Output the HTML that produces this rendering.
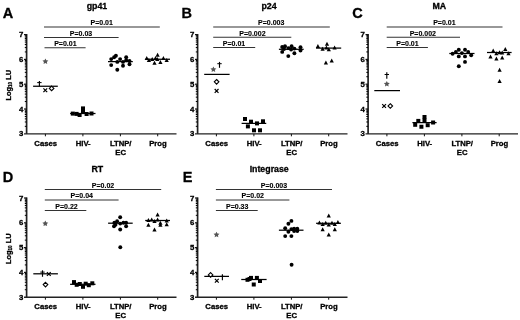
<!DOCTYPE html>
<html><head><meta charset="utf-8"><title>Figure</title>
<style>
html,body{margin:0;padding:0;background:#fff;width:520px;height:320px;overflow:hidden;}
body{position:relative;font-family:"Liberation Sans", sans-serif;}
</style></head><body>
<svg width="520" height="320" viewBox="0 0 520 320" style="position:absolute;left:0;top:0;will-change:transform" font-family='"Liberation Sans", sans-serif' fill="#000">
<style>text{stroke:#000;stroke-width:0.3px;}</style>
<rect width="520" height="320" fill="#fff"/>
<text x="2.8" y="18.3" font-size="14.5" text-anchor="start" font-weight="bold" >A</text>
<text x="97" y="9" font-size="8.8" text-anchor="middle" font-weight="bold" >gp41</text>
<path d="M44 26.9H159.8" stroke="#333" stroke-width="1.05"/>
<text x="101.7" y="25.3" font-size="7.0" text-anchor="middle" font-weight="bold" style="stroke-width:0.12px">P=0.01</text>
<path d="M44 37.4H118.6" stroke="#333" stroke-width="1.05"/>
<text x="81" y="35.8" font-size="7.0" text-anchor="middle" font-weight="bold" style="stroke-width:0.12px">P=0.03</text>
<path d="M44.5 47.7H85.6" stroke="#333" stroke-width="1.05"/>
<text x="65.4" y="46.1" font-size="7.0" text-anchor="middle" font-weight="bold" style="stroke-width:0.12px">P=0.01</text>
<path d="M26.6 34V133.9" stroke="#222" stroke-width="1.7" fill="none"/>
<path d="M24 133.9H176.5" stroke="#222" stroke-width="1.4" fill="none"/>
<path d="M24 34.6H26.6" stroke="#111" stroke-width="1.2"/>
<path d="M24 59.4H26.6" stroke="#111" stroke-width="1.2"/>
<path d="M24 84.2H26.6" stroke="#111" stroke-width="1.2"/>
<path d="M24 109H26.6" stroke="#111" stroke-width="1.2"/>
<text x="23.4" y="37.1" font-size="7.8" text-anchor="end" font-weight="bold" >7</text>
<text x="23.4" y="61.9" font-size="7.8" text-anchor="end" font-weight="bold" >6</text>
<text x="23.4" y="86.7" font-size="7.8" text-anchor="end" font-weight="bold" >5</text>
<text x="23.4" y="111.5" font-size="7.8" text-anchor="end" font-weight="bold" >4</text>
<text x="23.4" y="136.3" font-size="7.8" text-anchor="end" font-weight="bold" >3</text>
<path d="M24.8 126.33H26.6" stroke="#000" stroke-width="1.0"/>
<path d="M24.8 121.97H26.6" stroke="#000" stroke-width="1.0"/>
<path d="M24.8 118.87H26.6" stroke="#000" stroke-width="1.0"/>
<path d="M24.8 116.47H26.6" stroke="#000" stroke-width="1.0"/>
<path d="M24.8 114.5H26.6" stroke="#000" stroke-width="1.0"/>
<path d="M24.8 112.84H26.6" stroke="#000" stroke-width="1.0"/>
<path d="M24.8 111.4H26.6" stroke="#000" stroke-width="1.0"/>
<path d="M24.8 110.13H26.6" stroke="#000" stroke-width="1.0"/>
<path d="M24.8 101.53H26.6" stroke="#000" stroke-width="1.0"/>
<path d="M24.8 97.17H26.6" stroke="#000" stroke-width="1.0"/>
<path d="M24.8 94.07H26.6" stroke="#000" stroke-width="1.0"/>
<path d="M24.8 91.67H26.6" stroke="#000" stroke-width="1.0"/>
<path d="M24.8 89.7H26.6" stroke="#000" stroke-width="1.0"/>
<path d="M24.8 88.04H26.6" stroke="#000" stroke-width="1.0"/>
<path d="M24.8 86.6H26.6" stroke="#000" stroke-width="1.0"/>
<path d="M24.8 85.33H26.6" stroke="#000" stroke-width="1.0"/>
<path d="M24.8 76.73H26.6" stroke="#000" stroke-width="1.0"/>
<path d="M24.8 72.37H26.6" stroke="#000" stroke-width="1.0"/>
<path d="M24.8 69.27H26.6" stroke="#000" stroke-width="1.0"/>
<path d="M24.8 66.87H26.6" stroke="#000" stroke-width="1.0"/>
<path d="M24.8 64.9H26.6" stroke="#000" stroke-width="1.0"/>
<path d="M24.8 63.24H26.6" stroke="#000" stroke-width="1.0"/>
<path d="M24.8 61.8H26.6" stroke="#000" stroke-width="1.0"/>
<path d="M24.8 60.53H26.6" stroke="#000" stroke-width="1.0"/>
<path d="M24.8 51.93H26.6" stroke="#000" stroke-width="1.0"/>
<path d="M24.8 47.57H26.6" stroke="#000" stroke-width="1.0"/>
<path d="M24.8 44.47H26.6" stroke="#000" stroke-width="1.0"/>
<path d="M24.8 42.07H26.6" stroke="#000" stroke-width="1.0"/>
<path d="M24.8 40.1H26.6" stroke="#000" stroke-width="1.0"/>
<path d="M24.8 38.44H26.6" stroke="#000" stroke-width="1.0"/>
<path d="M24.8 37H26.6" stroke="#000" stroke-width="1.0"/>
<path d="M24.8 35.73H26.6" stroke="#000" stroke-width="1.0"/>
<path d="M45.4 133.9V136.3" stroke="#111" stroke-width="1"/>
<path d="M82.9 133.9V136.3" stroke="#111" stroke-width="1"/>
<path d="M120.4 133.9V136.3" stroke="#111" stroke-width="1"/>
<path d="M157.7 133.9V136.3" stroke="#111" stroke-width="1"/>
<text x="45.7" y="145.9" font-size="7.7" text-anchor="middle" font-weight="bold" >Cases</text>
<text x="83.2" y="145.9" font-size="7.7" text-anchor="middle" font-weight="bold" >HIV-</text>
<text x="120.7" y="145.9" font-size="7.7" text-anchor="middle" font-weight="bold" >LTNP/</text>
<text x="158" y="145.9" font-size="7.7" text-anchor="middle" font-weight="bold" >Prog</text>
<text x="120.7" y="155" font-size="7.7" text-anchor="middle" font-weight="bold" >EC</text>
<text transform="translate(10.6 85.3) rotate(-90)" font-size="7.4" font-weight="bold" text-anchor="middle">Log<tspan font-size="4.6" dy="1.1">10</tspan><tspan dy="-1.1"> LU</tspan></text>
<polygon points="45.4,58.4 46.31,60.25 48.35,60.54 46.87,61.98 47.22,64.01 45.4,63.05 43.58,64.01 43.93,61.98 42.45,60.54 44.49,60.25" fill="#555"/>
<path d="M33.1 86.25H57.8" stroke="#000" stroke-width="1.25"/>
<path d="M39.4 80.9V86.2" stroke="#000" stroke-width="1.15" fill="none"/>
<path d="M37.2 82.6H41.6" stroke="#000" stroke-width="1.0" fill="none"/>
<path d="M43.4 88.4L47.2 92.2M47.2 88.4L43.4 92.2" stroke="#000" stroke-width="1.2" fill="none"/>
<path d="M51.6 86.1L53.9 88.4L51.6 90.7L49.3 88.4Z" fill="#fff" stroke="#000" stroke-width="1.1"/>
<path d="M70.1 113.5H95.5" stroke="#000" stroke-width="1.25"/>
<rect x="70.8" y="111.6" width="4.0" height="4.0" fill="#000"/>
<rect x="74.6" y="111.9" width="4.0" height="4.0" fill="#000"/>
<rect x="77.6" y="113" width="4.0" height="4.0" fill="#000"/>
<rect x="81" y="106.4" width="4.0" height="4.0" fill="#000"/>
<rect x="81" y="110" width="4.0" height="4.0" fill="#000"/>
<rect x="84.6" y="112" width="4.0" height="4.0" fill="#000"/>
<rect x="89.5" y="111.5" width="4.0" height="4.0" fill="#000"/>
<path d="M108 61.6H132.8" stroke="#000" stroke-width="1.25"/>
<circle cx="111.2" cy="59.1" r="1.95" fill="#000"/>
<circle cx="114.1" cy="57.2" r="1.95" fill="#000"/>
<circle cx="115.9" cy="55.8" r="1.95" fill="#000"/>
<circle cx="111.2" cy="65.1" r="1.95" fill="#000"/>
<circle cx="117.3" cy="61.9" r="1.95" fill="#000"/>
<circle cx="120.1" cy="59.1" r="1.95" fill="#000"/>
<circle cx="117.3" cy="69.8" r="1.95" fill="#000"/>
<circle cx="123" cy="61.9" r="1.95" fill="#000"/>
<circle cx="123" cy="65.8" r="1.95" fill="#000"/>
<circle cx="126.2" cy="57.2" r="1.95" fill="#000"/>
<circle cx="126.2" cy="60.3" r="1.95" fill="#000"/>
<circle cx="129.5" cy="61" r="1.95" fill="#000"/>
<circle cx="129.5" cy="64.2" r="1.95" fill="#000"/>
<path d="M145.2 59.25H170" stroke="#000" stroke-width="1.25"/>
<path d="M146.75 55.9L148.85 59.9L144.65 59.9Z" fill="#000"/>
<path d="M148.9 58L151 62L146.8 62Z" fill="#000"/>
<path d="M152.2 57L154.3 61L150.1 61Z" fill="#000"/>
<path d="M154.5 60.8L156.6 64.8L152.4 64.8Z" fill="#000"/>
<path d="M155.5 56.1L157.6 60.1L153.4 60.1Z" fill="#000"/>
<path d="M157.6 52.8L159.7 56.8L155.5 56.8Z" fill="#000"/>
<path d="M157.3 57L159.4 61L155.2 61Z" fill="#000"/>
<path d="M160.4 59.9L162.5 63.9L158.3 63.9Z" fill="#000"/>
<path d="M163.4 56.1L165.5 60.1L161.3 60.1Z" fill="#000"/>
<path d="M166.7 58L168.8 62L164.6 62Z" fill="#000"/>
<text x="181.6" y="18.3" font-size="14.5" text-anchor="start" font-weight="bold" >B</text>
<text x="269" y="9" font-size="8.8" text-anchor="middle" font-weight="bold" >p24</text>
<path d="M213.2 26.9H329.8" stroke="#333" stroke-width="1.05"/>
<text x="271.25" y="25.3" font-size="7.0" text-anchor="middle" font-weight="bold" style="stroke-width:0.12px">P=0.003</text>
<path d="M213.2 37.3H291.3" stroke="#333" stroke-width="1.05"/>
<text x="252.4" y="35.7" font-size="7.0" text-anchor="middle" font-weight="bold" style="stroke-width:0.12px">P=0.002</text>
<path d="M213.2 47.4H255.2" stroke="#333" stroke-width="1.05"/>
<text x="234" y="45.8" font-size="7.0" text-anchor="middle" font-weight="bold" style="stroke-width:0.12px">P=0.01</text>
<path d="M197.6 34V133.9" stroke="#222" stroke-width="1.7" fill="none"/>
<path d="M195 133.9H347.5" stroke="#222" stroke-width="1.4" fill="none"/>
<path d="M195 34.6H197.6" stroke="#111" stroke-width="1.2"/>
<path d="M195 59.4H197.6" stroke="#111" stroke-width="1.2"/>
<path d="M195 84.2H197.6" stroke="#111" stroke-width="1.2"/>
<path d="M195 109H197.6" stroke="#111" stroke-width="1.2"/>
<text x="194.4" y="37.1" font-size="7.8" text-anchor="end" font-weight="bold" >7</text>
<text x="194.4" y="61.9" font-size="7.8" text-anchor="end" font-weight="bold" >6</text>
<text x="194.4" y="86.7" font-size="7.8" text-anchor="end" font-weight="bold" >5</text>
<text x="194.4" y="111.5" font-size="7.8" text-anchor="end" font-weight="bold" >4</text>
<text x="194.4" y="136.3" font-size="7.8" text-anchor="end" font-weight="bold" >3</text>
<path d="M195.8 126.33H197.6" stroke="#000" stroke-width="1.0"/>
<path d="M195.8 121.97H197.6" stroke="#000" stroke-width="1.0"/>
<path d="M195.8 118.87H197.6" stroke="#000" stroke-width="1.0"/>
<path d="M195.8 116.47H197.6" stroke="#000" stroke-width="1.0"/>
<path d="M195.8 114.5H197.6" stroke="#000" stroke-width="1.0"/>
<path d="M195.8 112.84H197.6" stroke="#000" stroke-width="1.0"/>
<path d="M195.8 111.4H197.6" stroke="#000" stroke-width="1.0"/>
<path d="M195.8 110.13H197.6" stroke="#000" stroke-width="1.0"/>
<path d="M195.8 101.53H197.6" stroke="#000" stroke-width="1.0"/>
<path d="M195.8 97.17H197.6" stroke="#000" stroke-width="1.0"/>
<path d="M195.8 94.07H197.6" stroke="#000" stroke-width="1.0"/>
<path d="M195.8 91.67H197.6" stroke="#000" stroke-width="1.0"/>
<path d="M195.8 89.7H197.6" stroke="#000" stroke-width="1.0"/>
<path d="M195.8 88.04H197.6" stroke="#000" stroke-width="1.0"/>
<path d="M195.8 86.6H197.6" stroke="#000" stroke-width="1.0"/>
<path d="M195.8 85.33H197.6" stroke="#000" stroke-width="1.0"/>
<path d="M195.8 76.73H197.6" stroke="#000" stroke-width="1.0"/>
<path d="M195.8 72.37H197.6" stroke="#000" stroke-width="1.0"/>
<path d="M195.8 69.27H197.6" stroke="#000" stroke-width="1.0"/>
<path d="M195.8 66.87H197.6" stroke="#000" stroke-width="1.0"/>
<path d="M195.8 64.9H197.6" stroke="#000" stroke-width="1.0"/>
<path d="M195.8 63.24H197.6" stroke="#000" stroke-width="1.0"/>
<path d="M195.8 61.8H197.6" stroke="#000" stroke-width="1.0"/>
<path d="M195.8 60.53H197.6" stroke="#000" stroke-width="1.0"/>
<path d="M195.8 51.93H197.6" stroke="#000" stroke-width="1.0"/>
<path d="M195.8 47.57H197.6" stroke="#000" stroke-width="1.0"/>
<path d="M195.8 44.47H197.6" stroke="#000" stroke-width="1.0"/>
<path d="M195.8 42.07H197.6" stroke="#000" stroke-width="1.0"/>
<path d="M195.8 40.1H197.6" stroke="#000" stroke-width="1.0"/>
<path d="M195.8 38.44H197.6" stroke="#000" stroke-width="1.0"/>
<path d="M195.8 37H197.6" stroke="#000" stroke-width="1.0"/>
<path d="M195.8 35.73H197.6" stroke="#000" stroke-width="1.0"/>
<path d="M216.4 133.9V136.3" stroke="#111" stroke-width="1"/>
<path d="M253.9 133.9V136.3" stroke="#111" stroke-width="1"/>
<path d="M291.4 133.9V136.3" stroke="#111" stroke-width="1"/>
<path d="M328.7 133.9V136.3" stroke="#111" stroke-width="1"/>
<text x="216.7" y="145.9" font-size="7.7" text-anchor="middle" font-weight="bold" >Cases</text>
<text x="254.2" y="145.9" font-size="7.7" text-anchor="middle" font-weight="bold" >HIV-</text>
<text x="291.7" y="145.9" font-size="7.7" text-anchor="middle" font-weight="bold" >LTNP/</text>
<text x="329" y="145.9" font-size="7.7" text-anchor="middle" font-weight="bold" >Prog</text>
<text x="291.7" y="155" font-size="7.7" text-anchor="middle" font-weight="bold" >EC</text>
<path d="M204.2 74.4H229.6" stroke="#000" stroke-width="1.25"/>
<polygon points="213.4,66.4 214.31,68.25 216.35,68.54 214.87,69.98 215.22,72.01 213.4,71.05 211.58,72.01 211.93,69.98 210.45,68.54 212.49,68.25" fill="#555"/>
<path d="M219.5 61.9V67.8" stroke="#000" stroke-width="1.15" fill="none"/>
<path d="M217.3 63.7H221.7" stroke="#000" stroke-width="1.0" fill="none"/>
<path d="M216.6 79.5L218.9 81.8L216.6 84.1L214.3 81.8Z" fill="#fff" stroke="#000" stroke-width="1.1"/>
<path d="M214.7 89L218.5 92.8M218.5 89L214.7 92.8" stroke="#000" stroke-width="1.2" fill="none"/>
<path d="M241.6 123.4H266.25" stroke="#000" stroke-width="1.25"/>
<rect x="243" y="117" width="4.0" height="4.0" fill="#000"/>
<rect x="245.9" y="124.4" width="4.0" height="4.0" fill="#000"/>
<rect x="249" y="119.7" width="4.0" height="4.0" fill="#000"/>
<rect x="252" y="128.3" width="4.0" height="4.0" fill="#000"/>
<rect x="255" y="121.4" width="4.0" height="4.0" fill="#000"/>
<rect x="258" y="128.3" width="4.0" height="4.0" fill="#000"/>
<rect x="261" y="119.3" width="4.0" height="4.0" fill="#000"/>
<path d="M278.9 49.3H303.7" stroke="#000" stroke-width="1.25"/>
<circle cx="282.2" cy="47" r="1.95" fill="#000"/>
<circle cx="282.2" cy="51.9" r="1.95" fill="#000"/>
<circle cx="285" cy="46.25" r="1.95" fill="#000"/>
<circle cx="284" cy="49" r="1.95" fill="#000"/>
<circle cx="288.3" cy="48.1" r="1.95" fill="#000"/>
<circle cx="291.6" cy="46.25" r="1.95" fill="#000"/>
<circle cx="291.1" cy="49.5" r="1.95" fill="#000"/>
<circle cx="294.4" cy="48.6" r="1.95" fill="#000"/>
<circle cx="294.4" cy="53.3" r="1.95" fill="#000"/>
<circle cx="288.3" cy="56.1" r="1.95" fill="#000"/>
<circle cx="300.5" cy="47.2" r="1.95" fill="#000"/>
<circle cx="300.5" cy="50.5" r="1.95" fill="#000"/>
<path d="M316 48.1H341.2" stroke="#000" stroke-width="1.25"/>
<path d="M317.9 43.9L320 47.9L315.8 47.9Z" fill="#000"/>
<path d="M322.6 46.7L324.7 50.7L320.5 50.7Z" fill="#000"/>
<path d="M327 41.75L329.1 45.75L324.9 45.75Z" fill="#000"/>
<path d="M326.4 45.6L328.5 49.6L324.3 49.6Z" fill="#000"/>
<path d="M328.8 47.2L330.9 51.2L326.7 51.2Z" fill="#000"/>
<path d="M334.6 45.6L336.7 49.6L332.5 49.6Z" fill="#000"/>
<path d="M325.9 60.4L328 64.4L323.8 64.4Z" fill="#000"/>
<path d="M331.7 58.4L333.8 62.4L329.6 62.4Z" fill="#000"/>
<text x="352.2" y="18.3" font-size="14.5" text-anchor="start" font-weight="bold" >C</text>
<text x="439.25" y="9" font-size="8.8" text-anchor="middle" font-weight="bold" >MA</text>
<path d="M386.7 26.9H502.5" stroke="#333" stroke-width="1.05"/>
<text x="444.35" y="25.3" font-size="7.0" text-anchor="middle" font-weight="bold" style="stroke-width:0.12px">P=0.01</text>
<path d="M386.7 37.3H460" stroke="#333" stroke-width="1.05"/>
<text x="422.8" y="35.7" font-size="7.0" text-anchor="middle" font-weight="bold" style="stroke-width:0.12px">P=0.002</text>
<path d="M386.7 47.4H427.9" stroke="#333" stroke-width="1.05"/>
<text x="407.45" y="45.8" font-size="7.0" text-anchor="middle" font-weight="bold" style="stroke-width:0.12px">P=0.01</text>
<path d="M368.1 34V133.9" stroke="#222" stroke-width="1.7" fill="none"/>
<path d="M365.5 133.9H518" stroke="#222" stroke-width="1.4" fill="none"/>
<path d="M365.5 34.6H368.1" stroke="#111" stroke-width="1.2"/>
<path d="M365.5 59.4H368.1" stroke="#111" stroke-width="1.2"/>
<path d="M365.5 84.2H368.1" stroke="#111" stroke-width="1.2"/>
<path d="M365.5 109H368.1" stroke="#111" stroke-width="1.2"/>
<text x="364.9" y="37.1" font-size="7.8" text-anchor="end" font-weight="bold" >7</text>
<text x="364.9" y="61.9" font-size="7.8" text-anchor="end" font-weight="bold" >6</text>
<text x="364.9" y="86.7" font-size="7.8" text-anchor="end" font-weight="bold" >5</text>
<text x="364.9" y="111.5" font-size="7.8" text-anchor="end" font-weight="bold" >4</text>
<text x="364.9" y="136.3" font-size="7.8" text-anchor="end" font-weight="bold" >3</text>
<path d="M366.3 126.33H368.1" stroke="#000" stroke-width="1.0"/>
<path d="M366.3 121.97H368.1" stroke="#000" stroke-width="1.0"/>
<path d="M366.3 118.87H368.1" stroke="#000" stroke-width="1.0"/>
<path d="M366.3 116.47H368.1" stroke="#000" stroke-width="1.0"/>
<path d="M366.3 114.5H368.1" stroke="#000" stroke-width="1.0"/>
<path d="M366.3 112.84H368.1" stroke="#000" stroke-width="1.0"/>
<path d="M366.3 111.4H368.1" stroke="#000" stroke-width="1.0"/>
<path d="M366.3 110.13H368.1" stroke="#000" stroke-width="1.0"/>
<path d="M366.3 101.53H368.1" stroke="#000" stroke-width="1.0"/>
<path d="M366.3 97.17H368.1" stroke="#000" stroke-width="1.0"/>
<path d="M366.3 94.07H368.1" stroke="#000" stroke-width="1.0"/>
<path d="M366.3 91.67H368.1" stroke="#000" stroke-width="1.0"/>
<path d="M366.3 89.7H368.1" stroke="#000" stroke-width="1.0"/>
<path d="M366.3 88.04H368.1" stroke="#000" stroke-width="1.0"/>
<path d="M366.3 86.6H368.1" stroke="#000" stroke-width="1.0"/>
<path d="M366.3 85.33H368.1" stroke="#000" stroke-width="1.0"/>
<path d="M366.3 76.73H368.1" stroke="#000" stroke-width="1.0"/>
<path d="M366.3 72.37H368.1" stroke="#000" stroke-width="1.0"/>
<path d="M366.3 69.27H368.1" stroke="#000" stroke-width="1.0"/>
<path d="M366.3 66.87H368.1" stroke="#000" stroke-width="1.0"/>
<path d="M366.3 64.9H368.1" stroke="#000" stroke-width="1.0"/>
<path d="M366.3 63.24H368.1" stroke="#000" stroke-width="1.0"/>
<path d="M366.3 61.8H368.1" stroke="#000" stroke-width="1.0"/>
<path d="M366.3 60.53H368.1" stroke="#000" stroke-width="1.0"/>
<path d="M366.3 51.93H368.1" stroke="#000" stroke-width="1.0"/>
<path d="M366.3 47.57H368.1" stroke="#000" stroke-width="1.0"/>
<path d="M366.3 44.47H368.1" stroke="#000" stroke-width="1.0"/>
<path d="M366.3 42.07H368.1" stroke="#000" stroke-width="1.0"/>
<path d="M366.3 40.1H368.1" stroke="#000" stroke-width="1.0"/>
<path d="M366.3 38.44H368.1" stroke="#000" stroke-width="1.0"/>
<path d="M366.3 37H368.1" stroke="#000" stroke-width="1.0"/>
<path d="M366.3 35.73H368.1" stroke="#000" stroke-width="1.0"/>
<path d="M386.9 133.9V136.3" stroke="#111" stroke-width="1"/>
<path d="M424.4 133.9V136.3" stroke="#111" stroke-width="1"/>
<path d="M461.9 133.9V136.3" stroke="#111" stroke-width="1"/>
<path d="M499.2 133.9V136.3" stroke="#111" stroke-width="1"/>
<text x="387.2" y="145.9" font-size="7.7" text-anchor="middle" font-weight="bold" >Cases</text>
<text x="424.7" y="145.9" font-size="7.7" text-anchor="middle" font-weight="bold" >HIV-</text>
<text x="462.2" y="145.9" font-size="7.7" text-anchor="middle" font-weight="bold" >LTNP/</text>
<text x="499.5" y="145.9" font-size="7.7" text-anchor="middle" font-weight="bold" >Prog</text>
<text x="462.2" y="155" font-size="7.7" text-anchor="middle" font-weight="bold" >EC</text>
<path d="M374.3 90.6H400" stroke="#000" stroke-width="1.25"/>
<path d="M386.8 72.3V78.7" stroke="#000" stroke-width="1.15" fill="none"/>
<path d="M384.6 74.5H389" stroke="#000" stroke-width="1.0" fill="none"/>
<polygon points="386.8,80.9 387.71,82.75 389.75,83.04 388.27,84.48 388.62,86.51 386.8,85.55 384.98,86.51 385.33,84.48 383.85,83.04 385.89,82.75" fill="#555"/>
<path d="M382.2 104.1L386 107.9M386 104.1L382.2 107.9" stroke="#000" stroke-width="1.2" fill="none"/>
<path d="M390.3 103.7L392.6 106L390.3 108.3L388 106Z" fill="#fff" stroke="#000" stroke-width="1.1"/>
<path d="M412.4 122.6H436.6" stroke="#000" stroke-width="1.25"/>
<rect x="413.2" y="122.8" width="4.0" height="4.0" fill="#000"/>
<rect x="416.3" y="118.9" width="4.0" height="4.0" fill="#000"/>
<rect x="419.4" y="124.75" width="4.0" height="4.0" fill="#000"/>
<rect x="422.5" y="115" width="4.0" height="4.0" fill="#000"/>
<rect x="422.5" y="118.5" width="4.0" height="4.0" fill="#000"/>
<rect x="425.7" y="123.2" width="4.0" height="4.0" fill="#000"/>
<rect x="431.1" y="120.5" width="4.0" height="4.0" fill="#000"/>
<path d="M449.3 53.5H474.5" stroke="#000" stroke-width="1.25"/>
<circle cx="452.6" cy="53.7" r="1.95" fill="#000"/>
<circle cx="455.9" cy="52" r="1.95" fill="#000"/>
<circle cx="458.8" cy="49.8" r="1.95" fill="#000"/>
<circle cx="458.8" cy="56.4" r="1.95" fill="#000"/>
<circle cx="461.9" cy="53.1" r="1.95" fill="#000"/>
<circle cx="465" cy="49.8" r="1.95" fill="#000"/>
<circle cx="465" cy="56.4" r="1.95" fill="#000"/>
<circle cx="468.2" cy="52" r="1.95" fill="#000"/>
<circle cx="471.2" cy="55.3" r="1.95" fill="#000"/>
<circle cx="465" cy="61.9" r="1.95" fill="#000"/>
<circle cx="458.8" cy="66.3" r="1.95" fill="#000"/>
<path d="M487 52.5H511.6" stroke="#000" stroke-width="1.25"/>
<path d="M493.2 48.6L495.3 52.6L491.1 52.6Z" fill="#000"/>
<path d="M496.4 51.3L498.5 55.3L494.3 55.3Z" fill="#000"/>
<path d="M499.6 50.2L501.7 54.2L497.5 54.2Z" fill="#000"/>
<path d="M502.2 50.5L504.3 54.5L500.1 54.5Z" fill="#000"/>
<path d="M505.3 47L507.4 51L503.2 51Z" fill="#000"/>
<path d="M508.5 51.3L510.6 55.3L506.4 55.3Z" fill="#000"/>
<path d="M490.5 54.4L492.6 58.4L488.4 58.4Z" fill="#000"/>
<path d="M496.4 56.4L498.5 60.4L494.3 60.4Z" fill="#000"/>
<path d="M502.2 55.5L504.3 59.5L500.1 59.5Z" fill="#000"/>
<path d="M499.6 67.7L501.7 71.7L497.5 71.7Z" fill="#000"/>
<path d="M499.6 78.9L501.7 82.9L497.5 82.9Z" fill="#000"/>
<text x="2.8" y="181.7" font-size="14.5" text-anchor="start" font-weight="bold" >D</text>
<text x="97.3" y="172.4" font-size="8.8" text-anchor="middle" font-weight="bold" >RT</text>
<path d="M44.8 189.4H161.2" stroke="#333" stroke-width="1.05"/>
<text x="103" y="187.8" font-size="7.0" text-anchor="middle" font-weight="bold" style="stroke-width:0.12px">P=0.02</text>
<path d="M44.8 199.9H118.6" stroke="#333" stroke-width="1.05"/>
<text x="81.75" y="198.3" font-size="7.0" text-anchor="middle" font-weight="bold" style="stroke-width:0.12px">P=0.04</text>
<path d="M44.8 210.4H86.3" stroke="#333" stroke-width="1.05"/>
<text x="66.5" y="208.8" font-size="7.0" text-anchor="middle" font-weight="bold" style="stroke-width:0.12px">P=0.22</text>
<path d="M26.6 197.4V297.3" stroke="#222" stroke-width="1.7" fill="none"/>
<path d="M24 297.3H176.5" stroke="#222" stroke-width="1.4" fill="none"/>
<path d="M24 198H26.6" stroke="#111" stroke-width="1.2"/>
<path d="M24 222.8H26.6" stroke="#111" stroke-width="1.2"/>
<path d="M24 247.6H26.6" stroke="#111" stroke-width="1.2"/>
<path d="M24 272.4H26.6" stroke="#111" stroke-width="1.2"/>
<text x="23.4" y="200.5" font-size="7.8" text-anchor="end" font-weight="bold" >7</text>
<text x="23.4" y="225.3" font-size="7.8" text-anchor="end" font-weight="bold" >6</text>
<text x="23.4" y="250.1" font-size="7.8" text-anchor="end" font-weight="bold" >5</text>
<text x="23.4" y="274.9" font-size="7.8" text-anchor="end" font-weight="bold" >4</text>
<text x="23.4" y="299.7" font-size="7.8" text-anchor="end" font-weight="bold" >3</text>
<path d="M24.8 289.73H26.6" stroke="#000" stroke-width="1.0"/>
<path d="M24.8 285.37H26.6" stroke="#000" stroke-width="1.0"/>
<path d="M24.8 282.27H26.6" stroke="#000" stroke-width="1.0"/>
<path d="M24.8 279.87H26.6" stroke="#000" stroke-width="1.0"/>
<path d="M24.8 277.9H26.6" stroke="#000" stroke-width="1.0"/>
<path d="M24.8 276.24H26.6" stroke="#000" stroke-width="1.0"/>
<path d="M24.8 274.8H26.6" stroke="#000" stroke-width="1.0"/>
<path d="M24.8 273.53H26.6" stroke="#000" stroke-width="1.0"/>
<path d="M24.8 264.93H26.6" stroke="#000" stroke-width="1.0"/>
<path d="M24.8 260.57H26.6" stroke="#000" stroke-width="1.0"/>
<path d="M24.8 257.47H26.6" stroke="#000" stroke-width="1.0"/>
<path d="M24.8 255.07H26.6" stroke="#000" stroke-width="1.0"/>
<path d="M24.8 253.1H26.6" stroke="#000" stroke-width="1.0"/>
<path d="M24.8 251.44H26.6" stroke="#000" stroke-width="1.0"/>
<path d="M24.8 250H26.6" stroke="#000" stroke-width="1.0"/>
<path d="M24.8 248.73H26.6" stroke="#000" stroke-width="1.0"/>
<path d="M24.8 240.13H26.6" stroke="#000" stroke-width="1.0"/>
<path d="M24.8 235.77H26.6" stroke="#000" stroke-width="1.0"/>
<path d="M24.8 232.67H26.6" stroke="#000" stroke-width="1.0"/>
<path d="M24.8 230.27H26.6" stroke="#000" stroke-width="1.0"/>
<path d="M24.8 228.3H26.6" stroke="#000" stroke-width="1.0"/>
<path d="M24.8 226.64H26.6" stroke="#000" stroke-width="1.0"/>
<path d="M24.8 225.2H26.6" stroke="#000" stroke-width="1.0"/>
<path d="M24.8 223.93H26.6" stroke="#000" stroke-width="1.0"/>
<path d="M24.8 215.33H26.6" stroke="#000" stroke-width="1.0"/>
<path d="M24.8 210.97H26.6" stroke="#000" stroke-width="1.0"/>
<path d="M24.8 207.87H26.6" stroke="#000" stroke-width="1.0"/>
<path d="M24.8 205.47H26.6" stroke="#000" stroke-width="1.0"/>
<path d="M24.8 203.5H26.6" stroke="#000" stroke-width="1.0"/>
<path d="M24.8 201.84H26.6" stroke="#000" stroke-width="1.0"/>
<path d="M24.8 200.4H26.6" stroke="#000" stroke-width="1.0"/>
<path d="M24.8 199.13H26.6" stroke="#000" stroke-width="1.0"/>
<path d="M45.4 297.3V299.7" stroke="#111" stroke-width="1"/>
<path d="M82.9 297.3V299.7" stroke="#111" stroke-width="1"/>
<path d="M120.4 297.3V299.7" stroke="#111" stroke-width="1"/>
<path d="M157.7 297.3V299.7" stroke="#111" stroke-width="1"/>
<text x="45.7" y="309.3" font-size="7.7" text-anchor="middle" font-weight="bold" >Cases</text>
<text x="83.2" y="309.3" font-size="7.7" text-anchor="middle" font-weight="bold" >HIV-</text>
<text x="120.7" y="309.3" font-size="7.7" text-anchor="middle" font-weight="bold" >LTNP/</text>
<text x="158" y="309.3" font-size="7.7" text-anchor="middle" font-weight="bold" >Prog</text>
<text x="120.7" y="318.4" font-size="7.7" text-anchor="middle" font-weight="bold" >EC</text>
<text transform="translate(10.6 248.7) rotate(-90)" font-size="7.4" font-weight="bold" text-anchor="middle">Log<tspan font-size="4.6" dy="1.1">10</tspan><tspan dy="-1.1"> LU</tspan></text>
<polygon points="45.3,220.5 46.21,222.35 48.25,222.64 46.77,224.08 47.12,226.11 45.3,225.15 43.48,226.11 43.83,224.08 42.35,222.64 44.39,222.35" fill="#555"/>
<path d="M33.3 273.8H57.9" stroke="#000" stroke-width="1.25"/>
<path d="M42.5 270.3V276.8" stroke="#000" stroke-width="1.15" fill="none"/>
<path d="M40.3 272.1H44.7" stroke="#000" stroke-width="1.0" fill="none"/>
<path d="M46.9 272.1L50.7 275.9M50.7 272.1L46.9 275.9" stroke="#000" stroke-width="1.2" fill="none"/>
<path d="M45.5 282.3L47.8 284.6L45.5 286.9L43.2 284.6Z" fill="#fff" stroke="#000" stroke-width="1.1"/>
<path d="M70.1 284.3H95.5" stroke="#000" stroke-width="1.25"/>
<rect x="72" y="280.1" width="4.0" height="4.0" fill="#000"/>
<rect x="74.7" y="282.8" width="4.0" height="4.0" fill="#000"/>
<rect x="77.8" y="282" width="4.0" height="4.0" fill="#000"/>
<rect x="81" y="284.8" width="4.0" height="4.0" fill="#000"/>
<rect x="83.7" y="281.7" width="4.0" height="4.0" fill="#000"/>
<rect x="86.8" y="283.2" width="4.0" height="4.0" fill="#000"/>
<rect x="90.3" y="281.3" width="4.0" height="4.0" fill="#000"/>
<path d="M108.1 223.2H132.7" stroke="#000" stroke-width="1.25"/>
<circle cx="120.2" cy="217.2" r="1.95" fill="#000"/>
<circle cx="114.4" cy="222.8" r="1.95" fill="#000"/>
<circle cx="117.1" cy="221.25" r="1.95" fill="#000"/>
<circle cx="114" cy="226.3" r="1.95" fill="#000"/>
<circle cx="115.5" cy="224.8" r="1.95" fill="#000"/>
<circle cx="120.2" cy="223.6" r="1.95" fill="#000"/>
<circle cx="123.4" cy="222.8" r="1.95" fill="#000"/>
<circle cx="126.1" cy="222.8" r="1.95" fill="#000"/>
<circle cx="126.1" cy="226.3" r="1.95" fill="#000"/>
<circle cx="120.2" cy="229.5" r="1.95" fill="#000"/>
<circle cx="120.3" cy="247.2" r="1.95" fill="#000"/>
<path d="M145.2 220.5H170" stroke="#000" stroke-width="1.25"/>
<path d="M157.6 212.4L159.7 216.4L155.5 216.4Z" fill="#000"/>
<path d="M148.4 218L150.5 222L146.3 222Z" fill="#000"/>
<path d="M151.7 217.5L153.8 221.5L149.6 221.5Z" fill="#000"/>
<path d="M154.5 219.1L156.6 223.1L152.4 223.1Z" fill="#000"/>
<path d="M157.6 217.5L159.7 221.5L155.5 221.5Z" fill="#000"/>
<path d="M160.4 220.8L162.5 224.8L158.3 224.8Z" fill="#000"/>
<path d="M160.4 222.7L162.5 226.7L158.3 226.7Z" fill="#000"/>
<path d="M166.7 218.5L168.8 222.5L164.6 222.5Z" fill="#000"/>
<path d="M166.7 222.2L168.8 226.2L164.6 226.2Z" fill="#000"/>
<path d="M148.4 222.7L150.5 226.7L146.3 226.7Z" fill="#000"/>
<path d="M154.5 227.6L156.6 231.6L152.4 231.6Z" fill="#000"/>
<text x="182.75" y="181.7" font-size="14.5" text-anchor="start" font-weight="bold" >E</text>
<text x="269.2" y="172.4" font-size="8.8" text-anchor="middle" font-weight="bold" >Integrase</text>
<path d="M215.9 189.4H332" stroke="#333" stroke-width="1.05"/>
<text x="274" y="187.8" font-size="7.0" text-anchor="middle" font-weight="bold" style="stroke-width:0.12px">P=0.003</text>
<path d="M215.9 200H289.4" stroke="#333" stroke-width="1.05"/>
<text x="252.8" y="198.4" font-size="7.0" text-anchor="middle" font-weight="bold" style="stroke-width:0.12px">P=0.02</text>
<path d="M215.9 210.4H257.7" stroke="#333" stroke-width="1.05"/>
<text x="237.2" y="208.8" font-size="7.0" text-anchor="middle" font-weight="bold" style="stroke-width:0.12px">P=0.33</text>
<path d="M197.6 197.4V297.3" stroke="#222" stroke-width="1.7" fill="none"/>
<path d="M195 297.3H347.5" stroke="#222" stroke-width="1.4" fill="none"/>
<path d="M195 198H197.6" stroke="#111" stroke-width="1.2"/>
<path d="M195 222.8H197.6" stroke="#111" stroke-width="1.2"/>
<path d="M195 247.6H197.6" stroke="#111" stroke-width="1.2"/>
<path d="M195 272.4H197.6" stroke="#111" stroke-width="1.2"/>
<text x="194.4" y="200.5" font-size="7.8" text-anchor="end" font-weight="bold" >7</text>
<text x="194.4" y="225.3" font-size="7.8" text-anchor="end" font-weight="bold" >6</text>
<text x="194.4" y="250.1" font-size="7.8" text-anchor="end" font-weight="bold" >5</text>
<text x="194.4" y="274.9" font-size="7.8" text-anchor="end" font-weight="bold" >4</text>
<text x="194.4" y="299.7" font-size="7.8" text-anchor="end" font-weight="bold" >3</text>
<path d="M195.8 289.73H197.6" stroke="#000" stroke-width="1.0"/>
<path d="M195.8 285.37H197.6" stroke="#000" stroke-width="1.0"/>
<path d="M195.8 282.27H197.6" stroke="#000" stroke-width="1.0"/>
<path d="M195.8 279.87H197.6" stroke="#000" stroke-width="1.0"/>
<path d="M195.8 277.9H197.6" stroke="#000" stroke-width="1.0"/>
<path d="M195.8 276.24H197.6" stroke="#000" stroke-width="1.0"/>
<path d="M195.8 274.8H197.6" stroke="#000" stroke-width="1.0"/>
<path d="M195.8 273.53H197.6" stroke="#000" stroke-width="1.0"/>
<path d="M195.8 264.93H197.6" stroke="#000" stroke-width="1.0"/>
<path d="M195.8 260.57H197.6" stroke="#000" stroke-width="1.0"/>
<path d="M195.8 257.47H197.6" stroke="#000" stroke-width="1.0"/>
<path d="M195.8 255.07H197.6" stroke="#000" stroke-width="1.0"/>
<path d="M195.8 253.1H197.6" stroke="#000" stroke-width="1.0"/>
<path d="M195.8 251.44H197.6" stroke="#000" stroke-width="1.0"/>
<path d="M195.8 250H197.6" stroke="#000" stroke-width="1.0"/>
<path d="M195.8 248.73H197.6" stroke="#000" stroke-width="1.0"/>
<path d="M195.8 240.13H197.6" stroke="#000" stroke-width="1.0"/>
<path d="M195.8 235.77H197.6" stroke="#000" stroke-width="1.0"/>
<path d="M195.8 232.67H197.6" stroke="#000" stroke-width="1.0"/>
<path d="M195.8 230.27H197.6" stroke="#000" stroke-width="1.0"/>
<path d="M195.8 228.3H197.6" stroke="#000" stroke-width="1.0"/>
<path d="M195.8 226.64H197.6" stroke="#000" stroke-width="1.0"/>
<path d="M195.8 225.2H197.6" stroke="#000" stroke-width="1.0"/>
<path d="M195.8 223.93H197.6" stroke="#000" stroke-width="1.0"/>
<path d="M195.8 215.33H197.6" stroke="#000" stroke-width="1.0"/>
<path d="M195.8 210.97H197.6" stroke="#000" stroke-width="1.0"/>
<path d="M195.8 207.87H197.6" stroke="#000" stroke-width="1.0"/>
<path d="M195.8 205.47H197.6" stroke="#000" stroke-width="1.0"/>
<path d="M195.8 203.5H197.6" stroke="#000" stroke-width="1.0"/>
<path d="M195.8 201.84H197.6" stroke="#000" stroke-width="1.0"/>
<path d="M195.8 200.4H197.6" stroke="#000" stroke-width="1.0"/>
<path d="M195.8 199.13H197.6" stroke="#000" stroke-width="1.0"/>
<path d="M216.4 297.3V299.7" stroke="#111" stroke-width="1"/>
<path d="M253.9 297.3V299.7" stroke="#111" stroke-width="1"/>
<path d="M291.4 297.3V299.7" stroke="#111" stroke-width="1"/>
<path d="M328.7 297.3V299.7" stroke="#111" stroke-width="1"/>
<text x="216.7" y="309.3" font-size="7.7" text-anchor="middle" font-weight="bold" >Cases</text>
<text x="254.2" y="309.3" font-size="7.7" text-anchor="middle" font-weight="bold" >HIV-</text>
<text x="291.7" y="309.3" font-size="7.7" text-anchor="middle" font-weight="bold" >LTNP/</text>
<text x="329" y="309.3" font-size="7.7" text-anchor="middle" font-weight="bold" >Prog</text>
<text x="291.7" y="318.4" font-size="7.7" text-anchor="middle" font-weight="bold" >EC</text>
<polygon points="216.5,231.65 217.41,233.5 219.45,233.79 217.97,235.23 218.32,237.26 216.5,236.3 214.68,237.26 215.03,235.23 213.55,233.79 215.59,233.5" fill="#555"/>
<path d="M204.3 276.4H229" stroke="#000" stroke-width="1.25"/>
<path d="M210.6 272.6L212.9 274.9L210.6 277.2L208.3 274.9Z" fill="#fff" stroke="#000" stroke-width="1.1"/>
<path d="M214.9 278.8L218.7 282.6M218.7 278.8L214.9 282.6" stroke="#000" stroke-width="1.2" fill="none"/>
<path d="M222.4 274.2V280.3" stroke="#000" stroke-width="1.15" fill="none"/>
<path d="M220.2 276.4H224.6" stroke="#000" stroke-width="1.0" fill="none"/>
<path d="M241.25 279.5H266.6" stroke="#000" stroke-width="1.25"/>
<rect x="245.5" y="277.8" width="4.0" height="4.0" fill="#000"/>
<rect x="247.5" y="277" width="4.0" height="4.0" fill="#000"/>
<rect x="249" y="275.9" width="4.0" height="4.0" fill="#000"/>
<rect x="251.75" y="282.5" width="4.0" height="4.0" fill="#000"/>
<rect x="254.9" y="275.9" width="4.0" height="4.0" fill="#000"/>
<rect x="258" y="279" width="4.0" height="4.0" fill="#000"/>
<path d="M278.9 230.2H303.5" stroke="#000" stroke-width="1.25"/>
<circle cx="291.4" cy="220.9" r="1.95" fill="#000"/>
<circle cx="288.4" cy="223.8" r="1.95" fill="#000"/>
<circle cx="285.2" cy="228.3" r="1.95" fill="#000"/>
<circle cx="288.4" cy="231.8" r="1.95" fill="#000"/>
<circle cx="291.4" cy="229.1" r="1.95" fill="#000"/>
<circle cx="294.1" cy="228.7" r="1.95" fill="#000"/>
<circle cx="294.1" cy="231" r="1.95" fill="#000"/>
<circle cx="297.3" cy="228.7" r="1.95" fill="#000"/>
<circle cx="297.3" cy="231" r="1.95" fill="#000"/>
<circle cx="285.2" cy="236.1" r="1.95" fill="#000"/>
<circle cx="291.4" cy="236.1" r="1.95" fill="#000"/>
<circle cx="291.6" cy="264.8" r="1.95" fill="#000"/>
<path d="M316.1 223.3H340.9" stroke="#000" stroke-width="1.25"/>
<path d="M328.75 213.4L330.85 217.4L326.65 217.4Z" fill="#000"/>
<path d="M319.4 220.4L321.5 224.4L317.3 224.4Z" fill="#000"/>
<path d="M322.65 222L324.75 226L320.55 226Z" fill="#000"/>
<path d="M325.75 220.65L327.85 224.65L323.65 224.65Z" fill="#000"/>
<path d="M328.75 222.5L330.85 226.5L326.65 226.5Z" fill="#000"/>
<path d="M332 220.65L334.1 224.65L329.9 224.65Z" fill="#000"/>
<path d="M334.8 222L336.9 226L332.7 226Z" fill="#000"/>
<path d="M337.9 220L340 224L335.8 224Z" fill="#000"/>
<path d="M322.65 227.2L324.75 231.2L320.55 231.2Z" fill="#000"/>
<path d="M334.8 227.2L336.9 231.2L332.7 231.2Z" fill="#000"/>
<path d="M328.75 232.55L330.85 236.55L326.65 236.55Z" fill="#000"/>
</svg>
</body></html>
